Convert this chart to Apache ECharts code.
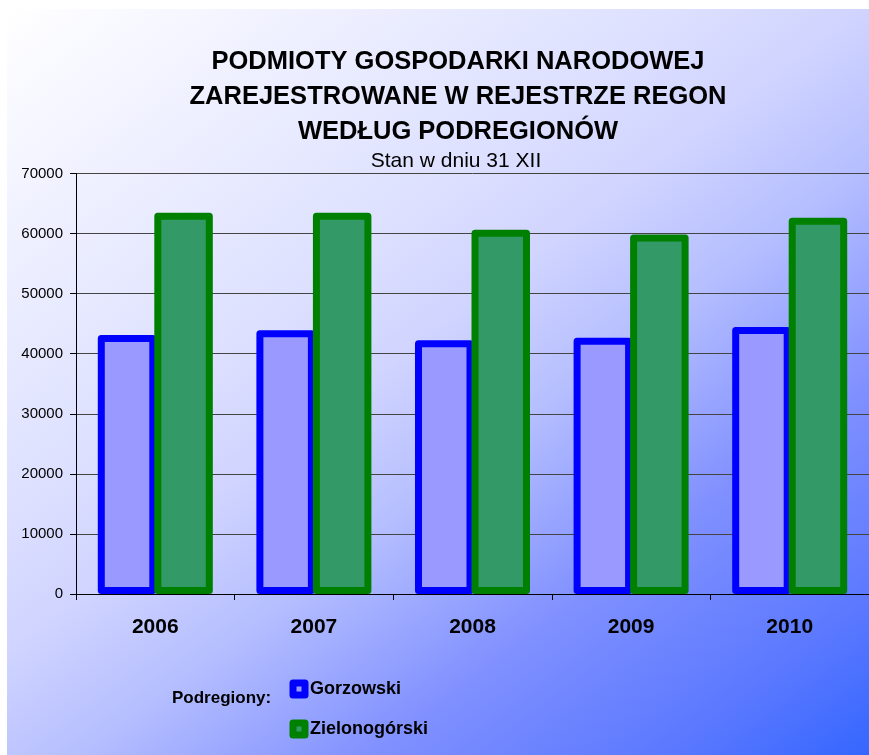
<!DOCTYPE html>
<html>
<head>
<meta charset="utf-8">
<script src="https://cdn.jsdelivr.net/npm/echarts@6/dist/echarts.min.js"></script>
<style>
  html, body { margin: 0; padding: 0; background: #ffffff; }
  #chart { width: 869px; height: 755px; }
</style>
</head>
<body>
<div id="chart"></div>
<script>
const years = ['2006', '2007', '2008', '2009', '2010']
const gorzowski = [43100, 43900, 42250, 42650, 44450]
const zielonogorski = [63450, 63450, 60650, 59850, 62650]
const yTicks = { min: 0, max: 70000, interval: 10000 }

const font = "'Liberation Sans', Arial, sans-serif"
const chart = echarts.init(document.getElementById('chart'))

// background: diagonal white -> blue, more vertical than 45deg
const bgFill = new echarts.graphic.LinearGradient(7, 9, 678, 903, [
  { offset: 0, color: '#ffffff' },
  { offset: 0.36, color: '#dde0ff' },
  { offset: 0.46, color: '#d0d4ff' },
  { offset: 0.57, color: '#b6bfff' },
  { offset: 0.73, color: '#8090ff' },
  { offset: 0.89, color: '#5a78ff' },
  { offset: 1, color: '#3366ff' }
], true)

const option = {
  backgroundColor: 'transparent',
  animation: false,
  textStyle: { fontFamily: font },
  graphic: [
    {
      type: 'rect',
      z: -10,
      silent: true,
      shape: { x: 7, y: 9, width: 862, height: 746 },
      style: { fill: bgFill }
    },
    {
      type: 'text',
      x: 458,
      y: 44,
      style: {
        text: 'PODMIOTY GOSPODARKI NARODOWEJ\nZAREJESTROWANE W REJESTRZE REGON\nWEDŁUG PODREGIONÓW',
        font: 'bold 25.5px ' + font,
        lineHeight: 35,
        fill: '#000',
        align: 'center',
        verticalAlign: 'top'
      }
    },
    {
      type: 'text',
      x: 456,
      y: 161,
      style: {
        text: 'Stan w dniu 31 XII',
        font: '21px ' + font,
        fill: '#000',
        align: 'center',
        verticalAlign: 'middle'
      }
    },
    {
      type: 'text',
      x: 172,
      y: 698,
      style: {
        text: 'Podregiony:',
        font: 'bold 17px ' + font,
        fill: '#000',
        align: 'left',
        verticalAlign: 'middle'
      }
    }
  ],
  legend: {
    orient: 'vertical',
    left: 284.5,
    top: 674.5,
    icon: 'rect',
    itemWidth: 12,
    itemHeight: 12,
    itemGap: 21,
    textStyle: { fontSize: 18, fontWeight: 'bold', color: '#000', fontFamily: font },
    data: [
      { name: 'Gorzowski', itemStyle: { color: '#9999ff', borderColor: '#0000ff', borderWidth: 7 } },
      { name: 'Zielonogórski', itemStyle: { color: '#339966', borderColor: '#008000', borderWidth: 7 } }
    ]
  },
  grid: {
    left: 76,
    right: 0,
    top: 173.5,
    bottom: 161,
    containLabel: false
  },
  xAxis: {
    type: 'category',
    data: years,
    z: 3,
    axisLine: { lineStyle: { color: '#000', width: 1 } },
    axisTick: { show: true, length: 6, lineStyle: { color: '#000' } },
    axisLabel: { fontSize: 21, fontWeight: 'bold', color: '#000', margin: 23, fontFamily: font }
  },
  yAxis: {
    type: 'value',
    min: yTicks.min,
    max: yTicks.max,
    interval: yTicks.interval,
    axisLine: { show: true, lineStyle: { color: '#000', width: 1 } },
    axisTick: { show: true, length: 6, lineStyle: { color: '#000' } },
    axisLabel: { fontSize: 15, color: '#000', margin: 13, fontFamily: font, formatter: v => String(v) },
    splitLine: { lineStyle: { color: '#444', width: 1 } }
  },
  series: [
    {
      name: 'Gorzowski',
      type: 'bar',
      data: gorzowski,
      barWidth: 58.5,
      barGap: '-3.4%',
      itemStyle: {
        color: '#9999ff',
        borderColor: '#0000ff',
        borderWidth: 7,
        borderJoin: 'round'
      }
    },
    {
      name: 'Zielonogórski',
      type: 'bar',
      data: zielonogorski,
      barWidth: 58.5,
      itemStyle: {
        color: '#339966',
        borderColor: '#008000',
        borderWidth: 7,
        borderJoin: 'round'
      }
    }
  ]
}

chart.setOption(option)
window.addEventListener('resize', () => chart.resize())
</script>
</body>
</html>
